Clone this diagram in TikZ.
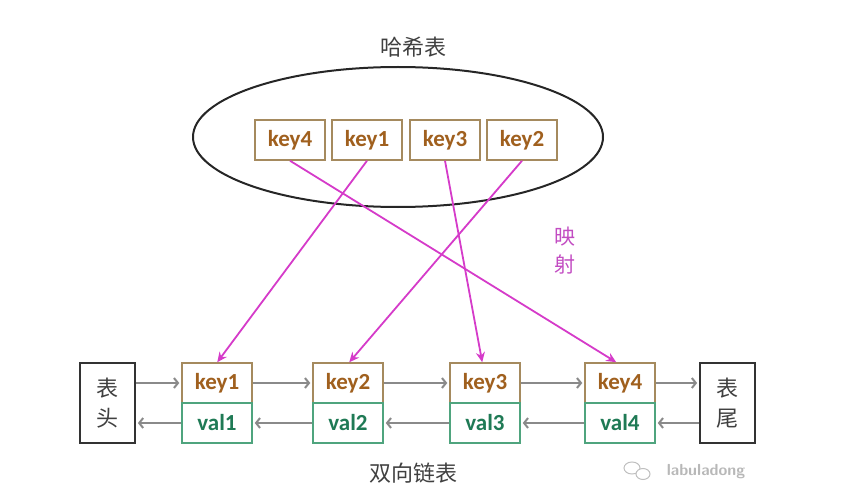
\documentclass[tikz,border=0pt]{standalone}
\usepackage{fontspec}
\setmainfont{Carlito}
\newfontfamily\cjk{Noto Sans CJK SC}
\usetikzlibrary{arrows.meta,calc,shapes.geometric}
\definecolor{keybrd}{HTML}{A58A5E}
\definecolor{keytxt}{HTML}{A0601E}
\definecolor{valbrd}{HTML}{4FA47E}
\definecolor{valtxt}{HTML}{1F7A55}
\definecolor{mag}{HTML}{D53BC9}
\definecolor{maptxt}{HTML}{C24CC2}
\definecolor{linkgray}{HTML}{8A8A8A}
\begin{document}
\begin{tikzpicture}[x=1pt,y=-1pt,
  keybox/.style={draw=keybrd,line width=1.5pt,fill=white,minimum width=70pt,minimum height=40pt,inner sep=0pt,
    text=keytxt,font=\fontsize{23}{25}\selectfont\bfseries},
  valbox/.style={draw=valbrd,line width=1.5pt,fill=white,minimum width=70pt,minimum height=40pt,inner sep=0pt,
    text=valtxt,font=\fontsize{23}{25}\selectfont\bfseries},
  endbox/.style={draw=black!80,line width=1.8pt,fill=white,minimum width=55pt,minimum height=80pt,inner sep=0pt,
    align=center,font=\cjk\fontsize{22}{30}\selectfont,text=black!75},
  link/.style={draw=linkgray,line width=2pt,-{Straight Barb[length=4pt,width=10pt]},shorten >=2pt},
  mapline/.style={draw=mag,line width=1.8pt,-{Stealth[length=10pt,width=9pt]}},
  title/.style={font=\cjk\fontsize{22}{24}\selectfont,text=black!75}]
\useasboundingbox (0,0) rectangle (856,497);
% hash table
\node[title] (ht) at (413,47) {哈希表};
\node[draw=black!85,line width=2pt,ellipse,minimum width=410pt,minimum height=140pt,inner sep=0pt] (ell) at (398,137) {};
\node[keybox] (hk4) at (290,140) {key4};
\node[keybox] (hk1) at (367,140) {key1};
\node[keybox] (hk3) at (445,140) {key3};
\node[keybox] (hk2) at (522,140) {key2};
% list
\node[endbox] (head) at (107.5,403) {表\\头};
\node[endbox] (tail) at (727.5,403) {表\\尾};
\node[keybox] (k1) at (217,383) {key1};
\node[valbox] (v1) at (217,423) {val1};
\node[keybox] (k2) at (348,383) {key2};
\node[valbox] (v2) at (348,423) {val2};
\node[keybox] (k3) at (485,383) {key3};
\node[valbox] (v3) at (485,423) {val3};
\node[keybox] (k4) at (620,383) {key4};
\node[valbox] (v4) at (620,423) {val4};
\node[title] (dl) at (413,473) {双向链表};
% forward links
\draw[link] (head.east |- k1.west) -- (k1.west);
\draw[link] (k1.east) -- (k2.west);
\draw[link] (k2.east) -- (k3.west);
\draw[link] (k3.east) -- (k4.west);
\draw[link] (k4.east) -- (tail.west |- k4.east);
% backward links
\draw[link] (tail.west |- v4.east) -- (v4.east);
\draw[link] (v4.west) -- (v3.east);
\draw[link] (v3.west) -- (v2.east);
\draw[link] (v2.west) -- (v1.east);
\draw[link] (v1.west) -- (v1.west -| head.east);
% mapping
\coordinate (t1) at ($(k1.north west)+(36,0)$);
\coordinate (t2) at ($(k2.north west)+(37,0)$);
\coordinate (t3) at ($(k3.north west)+(33,0)$);
\coordinate (t4) at ($(k4.north west)+(32,0)$);
\draw[mapline] (hk4.south) -- (t4);
\draw[mapline] (hk1.south) -- (t1);
\draw[mapline] (hk3.south) -- (t3);
\draw[mapline] (hk2.south) -- (t2);
\node[font=\cjk\fontsize{21}{28}\selectfont,text=maptxt,align=center] (map) at (565,251) {映\\射};
% watermark
\node[font=\sffamily\bfseries\fontsize{16}{18}\selectfont,text=black!28] (wm) at (706,472) {labuladong};
\draw[black!25,line width=1pt] (632,468) ellipse [x radius=8pt,y radius=6pt];
\draw[black!25,line width=1pt,fill=white] (643,474) ellipse [x radius=7pt,y radius=5.5pt];
\end{tikzpicture}
\end{document}
